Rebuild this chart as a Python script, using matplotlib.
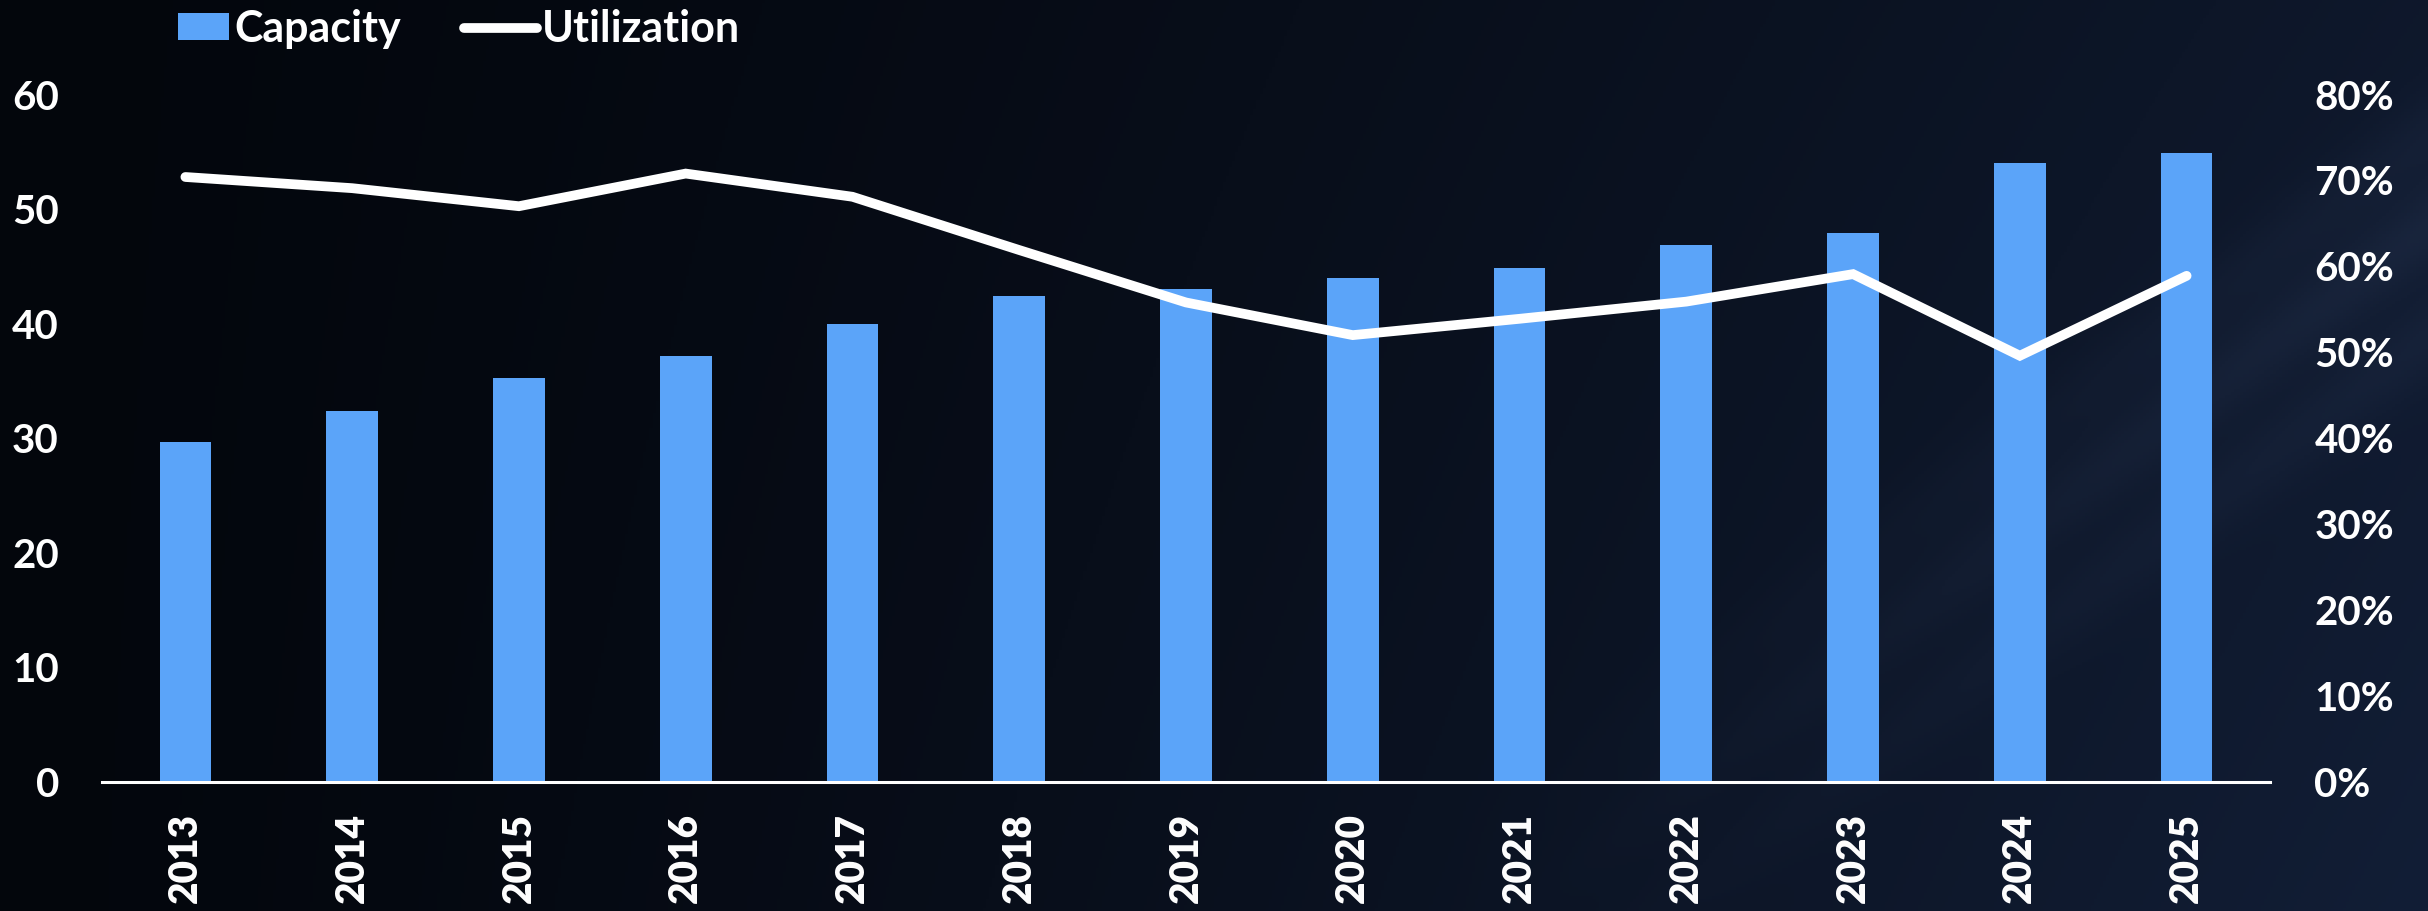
import numpy as np
import matplotlib
matplotlib.use("Agg")
import matplotlib.pyplot as plt
from matplotlib.patches import Patch, Rectangle
from matplotlib.lines import Line2D
from matplotlib.legend_handler import HandlerPatch
from matplotlib.ticker import FuncFormatter

plt.rcParams['font.family'] = ['Lato', 'DejaVu Sans']
plt.rcParams['font.weight'] = 'bold'

# ---- data ----
years = ["2013", "2014", "2015", "2016", "2017", "2018", "2019",
         "2020", "2021", "2022", "2023", "2024", "2025"]
capacity = [29.7, 32.4, 35.3, 37.2, 40.0, 42.4, 43.0, 44.0, 44.9, 46.9, 47.9, 54.0, 54.9]
utilization = [70.4, 69.1, 67.0, 70.8, 68.1, 61.9, 55.8, 52.0, 53.9, 55.9, 59.1, 49.6, 58.9]
left_ticks = [0, 10, 20, 30, 40, 50, 60]
right_ticks = [0, 10, 20, 30, 40, 50, 60, 70, 80]

BAR = "#5ba4f9"
W, H = 2428, 911
fig = plt.figure(figsize=(W / 100, H / 100), dpi=100)

# ---- background gradient ----
ny, nx = 300, 800
xx, yy = np.meshgrid(np.linspace(0, 1, nx), np.linspace(0, 1, ny))  # yy: 0 top
c0 = np.array([0x03, 0x06, 0x0c]) / 255
c1 = np.array([0x12, 0x1e, 0x36]) / 255
t = np.clip(0.75 * xx ** 1.3 + 0.25 * yy * xx, 0, 1)
img = c0[None, None, :] * (1 - t[..., None]) + c1[None, None, :] * t[..., None]
# faint diagonal light streaks at lower right
for off, a in [(0.0, 0.06), (0.12, 0.04), (-0.1, 0.035)]:
    d = (yy - (1.15 - 0.9 * (xx - 0.55) / 0.45) - off)
    band = np.exp(-(d / 0.05) ** 2) * np.clip((xx - 0.6) / 0.4, 0, 1)
    img = img + a * band[..., None] * np.array([0.6, 0.7, 0.9])[None, None, :]
img = np.clip(img, 0, 1)
bg = fig.add_axes([0, 0, 1, 1], zorder=0)
bg.imshow(img, extent=[0, 1, 0, 1], aspect='auto', origin='upper')
bg.axis('off')

# ---- main axes ----
left, right = 102 / W, 2270 / W
bottom, top = 1 - 782 / H, 1 - 94.5 / H
ax = fig.add_axes([left, bottom, right - left, top - bottom], zorder=1)
ax.patch.set_alpha(0)
x = np.arange(len(years))
ax.bar(x, capacity, width=0.31, color=BAR, zorder=2)
ax.set_xlim(-0.5, len(years) - 0.5)
ax.set_ylim(0, 60)
ax.set_yticks(left_ticks)
ax.set_xticks(x)
ax.set_xticklabels(years, rotation=90, fontsize=28, color='white', fontweight='heavy')
for s in ['top', 'left', 'right']:
    ax.spines[s].set_visible(False)
ax.spines['bottom'].set_color('white')
ax.spines['bottom'].set_linewidth(2.2)
ax.tick_params(axis='x', length=0, pad=22)
ax.tick_params(axis='y', length=0, pad=31, labelsize=29, labelcolor='white')

ax2 = ax.twinx()
ax2.patch.set_alpha(0)
ax2.plot(x, utilization, color='white', lw=7, solid_joinstyle='miter', solid_capstyle='round', zorder=3)
ax2.set_ylim(0, 80)
ax2.set_yticks(right_ticks)
ax2.yaxis.set_major_formatter(FuncFormatter(lambda v, p: f"{int(v)}%"))
for s in ['top', 'left', 'right', 'bottom']:
    ax2.spines[s].set_visible(False)
ax2.tick_params(axis='y', length=0, pad=32, labelsize=29, labelcolor='white')

# ---- legend ----
FS = 31
patch_w_pt = 51 * 72 / 100


def right_rect(legend, orig_handle, xdescent, ydescent, width, height, fontsize):
    return Rectangle((-xdescent + width - patch_w_pt, -ydescent), patch_w_pt, height)


handles = [Patch(facecolor=BAR, edgecolor='none', label='Capacity'),
           Line2D([0], [0], color='white', lw=7, solid_capstyle='round', label='Utilization')]
leg = fig.legend(handles=handles, loc='upper left', bbox_to_anchor=(156 / W, 1 - 9 / H),
                 ncol=2, frameon=False, prop={'family': ['Lato', 'DejaVu Sans'], 'weight': 'bold', 'size': FS},
                 handlelength=1.7, handleheight=0.6, handletextpad=0.12, columnspacing=1.46,
                 borderpad=0, borderaxespad=0,
                 handler_map={Patch: HandlerPatch(patch_func=right_rect)})
for txt in leg.get_texts():
    txt.set_color('white')

fig.savefig("out.png", dpi=100)
